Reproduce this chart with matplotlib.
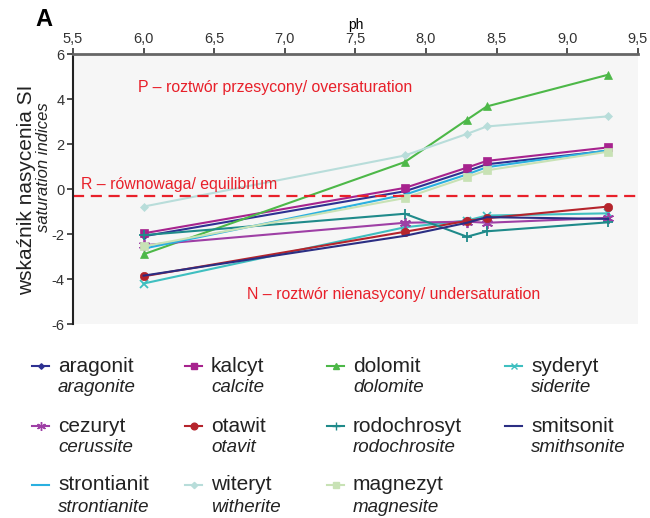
import numpy as np
import matplotlib.pyplot as plt
from matplotlib.lines import Line2D

plt.rcParams['font.family'] = ['Liberation Sans', 'DejaVu Sans']

# pH of the sampling points
ph = [6.0, 7.85, 8.29, 8.43, 9.29]

aragonit = [-2.1, -0.1, 0.8, 1.1, 1.7]
kalcyt = [-1.97, 0.05, 0.95, 1.25, 1.85]
dolomit = [-2.9, 1.2, 3.08, 3.67, 5.08]
syderyt = [-4.2, -1.7, -1.4, -1.18, -1.08]
cezuryt = [-2.5, -1.5, -1.45, -1.5, -1.28]
otawit = [-3.88, -1.9, -1.42, -1.3, -0.78]
rodochrosyt = [-2.05, -1.1, -2.12, -1.88, -1.48]
smitsonit = [-3.85, -2.08, -1.5, -1.25, -1.33]
strontianit = [-2.65, -0.25, 0.65, 0.97, 1.72]
witeryt = [-0.78, 1.49, 2.45, 2.78, 3.23]
magnezyt = [-2.55, -0.4, 0.53, 0.83, 1.66]

equilibrium = -0.3

xticks = [5.5, 6.0, 6.5, 7.0, 7.5, 8.0, 8.5, 9.0, 9.5]
yticks = [6, 4, 2, 0, -2, -4, -6]

# (polish, english, values, colour, marker, markersize)
series = [
    ("aragonit", "aragonite", aragonit, '#2e3192', 'D', 3.5),
    ("kalcyt", "calcite", kalcyt, '#a7238e', 's', 6),
    ("dolomit", "dolomite", dolomit, '#4db848', '^', 6),
    ("syderyt", "siderite", syderyt, '#3fbfc0', 'x', 6),
    ("cezuryt", "cerussite", cezuryt, '#9e3fa5', (6, 2, 0), 8),
    ("otawit", "otavit", otawit, '#b5242c', 'o', 6),
    ("rodochrosyt", "rodochrosite", rodochrosyt, '#1f8a8a', '+', 7),
    ("smitsonit", "smithsonite", smitsonit, '#2b2e83', None, 0),
    ("strontianit", "strontianite", strontianit, '#2ab0e0', None, 0),
    ("witeryt", "witherite", witeryt, '#b8ddda', 'D', 4),
    ("magnezyt", "magnesite", magnezyt, '#c8e2b5', 's', 6),
]

fig = plt.figure(figsize=(6.5, 5.18), dpi=100)
ax = fig.add_axes([0.1123, 0.3745, 0.869, 0.5212])
ax.set_facecolor('#f6f6f6')

for pl, en, vals, col, mk, ms in series:
    ax.plot(ph, vals, color=col, marker=mk, markersize=ms, linewidth=1.5,
            markeredgewidth=1.3 if mk in ('x', '+', (6, 2, 0)) else 0.5)

ax.axhline(equilibrium, color='#e8202a', linestyle=(0, (5, 3)), linewidth=1.6)

red = '#e8202a'
ax.text(5.96, 4.5, "P – roztwór przesycony/ oversaturation", color=red,
        fontsize=11.4, va='center')
ax.text(5.56, 0.22, "R – równowaga/ equilibrium", color=red,
        fontsize=11.4, va='center')
ax.text(6.73, -4.67, "N – roztwór nienasycony/ undersaturation", color=red,
        fontsize=11.4, va='center')

ax.set_xlim(5.5, 9.5)
ax.set_ylim(-6, 6)
ax.xaxis.tick_top()
ax.xaxis.set_label_position('top')
ax.set_xticks(xticks)
ax.set_xticklabels([f"{v:.1f}".replace('.', ',') for v in xticks])
ax.set_yticks(yticks)
ax.set_yticklabels([str(v) for v in yticks])
ax.set_xlabel("ph", fontsize=10, labelpad=2)
ax.tick_params(axis='x', direction='out', length=4, width=1.2, colors='#333333',
               labelsize=10.5, pad=2)
ax.tick_params(axis='y', direction='out', length=4, width=1.2, colors='#333333',
               labelsize=10.5, pad=2)
for s in ('right', 'bottom'):
    ax.spines[s].set_visible(False)
ax.spines['top'].set_color('#666666')
ax.spines['top'].set_linewidth(2)
ax.spines['left'].set_color('#222222')
ax.spines['left'].set_linewidth(1.5)

fig.text(27 / 650, 1 - 190 / 518, "wskaźnik nasycenia SI", rotation=90,
         fontsize=15, va='center', ha='center', color='#222222')
fig.text(43 / 650, 1 - 167 / 518, "saturation indices", rotation=90,
         fontsize=12, style='italic', va='center', ha='center', color='#222222')
fig.text(35 / 650, 1 - 19 / 518, "A", fontsize=17, fontweight='bold',
         va='center')

# legend, drawn by hand: 4 columns x 3 rows
col_x = [32, 185, 327, 505]
row_y = [366, 426, 485]
W, H = 650.0, 518.0
for i, (pl, en, vals, col, mk, ms) in enumerate(series):
    r, c = divmod(i, 4)
    x0, y0 = col_x[c], row_y[r]
    fig.add_artist(Line2D([x0 / W, (x0 + 17) / W], [1 - y0 / H, 1 - y0 / H],
                          color=col, linewidth=1.5))
    if mk is not None:
        fig.add_artist(Line2D([(x0 + 8.5) / W], [1 - y0 / H], color=col,
                              marker=mk, markersize=ms * 0.8,
                              markeredgewidth=1.0))
    fig.text((x0 + 26) / W, 1 - y0 / H, pl, fontsize=15, va='center',
             color='#222222')
    fig.text((x0 + 26) / W, 1 - (y0 + 22) / H, en, fontsize=13.5,
             style='italic', va='center', color='#222222')

fig.savefig('out.png', dpi=100)
